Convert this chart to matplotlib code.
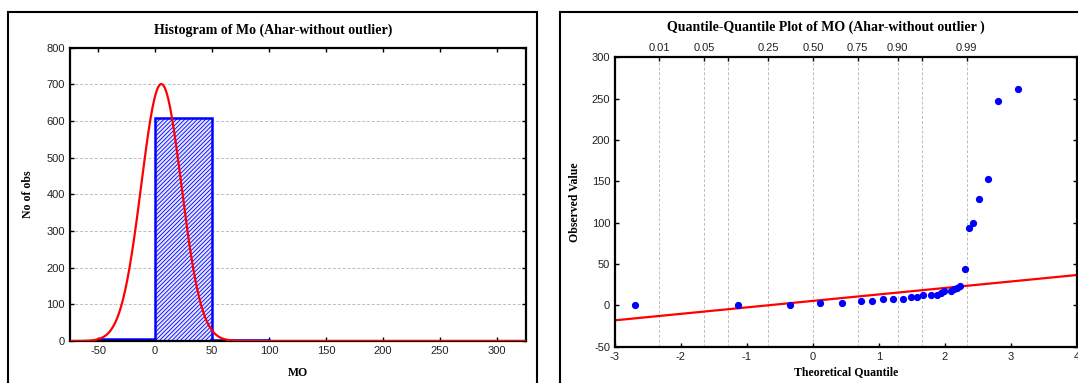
from statistics import NormalDist

import matplotlib

matplotlib.use("Agg")
import matplotlib.pyplot as plt  # noqa: E402
import numpy as np  # noqa: E402
from matplotlib.patches import Rectangle  # noqa: E402

# histogram data (MO, bins of width 50)
bin_edges = [-50, 0, 50, 100, 150, 200, 250, 300]
bin_counts = [5, 607, 2, 1, 1, 1, 1]
normal_mean = 5.5
normal_sd = 17.6

# quantile-quantile data
theo_q = [-2.69, -1.14, -0.345, 0.10, 0.44, 0.725, 0.90, 1.06, 1.21, 1.36,
          1.48, 1.57, 1.67, 1.79, 1.88, 1.94, 1.99, 2.09, 2.14, 2.18, 2.23,
          2.30, 2.36, 2.42, 2.52, 2.65, 2.81, 3.11]
obs_val = [1.0, 1.0, 0.5, 2.5, 3.0, 5.2, 5.2, 7.6, 7.6, 7.6,
           10.0, 10.0, 12.4, 12.4, 12.4, 14.4, 16.8, 17.2, 19.6, 21.5, 24.0,
           44.0, 94.0, 99.5, 129.0, 153.0, 247.0, 262.0]
fit_intercept = 5.4
fit_slope = 7.83
top_probs = [0.01, 0.05, 0.10, 0.25, 0.50, 0.75, 0.90, 0.95, 0.99]
top_labels = ["0.01", "0.05", "", "0.25", "0.50", "0.75", "0.90", "", "0.99"]

SERIF = "Liberation Serif"
SANS = "Liberation Sans"
plt.rcParams["font.family"] = SANS
plt.rcParams["hatch.linewidth"] = 0.6
plt.rcParams["axes.unicode_minus"] = False

W, H = 1078, 383
fig = plt.figure(figsize=(W / 100, H / 100), dpi=100)


def fx(px):
    return px / W


def fy(py):
    return 1 - py / H


# panel frames
for x0, x1 in [(8, 537), (560, 1100)]:
    fig.patches.append(Rectangle((fx(x0), -0.05), fx(x1 - x0), fy(12) + 0.05,
                                 transform=fig.transFigure, fill=False,
                                 edgecolor="black", linewidth=1.5))


def style_axes(ax):
    for sp in ax.spines.values():
        sp.set_linewidth(1.6)
        sp.set_color("black")
    ax.tick_params(direction="in", length=3, width=1, labelsize=8,
                   top=True, right=True, colors="black", labelcolor="#222222")


# ---- histogram ----
ax1 = fig.add_axes([fx(69.5), fy(341), fx(525.7 - 69.5), (341 - 47.5) / H])
lefts = bin_edges[:-1]
widths = np.diff(bin_edges)
ax1.bar(lefts, bin_counts, width=widths, align="edge", facecolor="#e4e6ff",
        edgecolor="#0000ff", hatch="////////", linewidth=1.8, zorder=2)
n_obs = sum(bin_counts)
xs = np.linspace(-75, 325, 800)
ys = n_obs * 50 / (normal_sd * np.sqrt(2 * np.pi)) * np.exp(
    -0.5 * ((xs - normal_mean) / normal_sd) ** 2)
ax1.plot(xs, ys, color="#ff0000", linewidth=1.6, zorder=3)
ax1.set_xlim(-75, 325)
ax1.set_ylim(0, 800)
ax1.set_xticks(range(-50, 301, 50))
ax1.set_yticks(range(0, 801, 100))
ax1.yaxis.grid(True, linestyle=(0, (3, 2)), color="#bdbdbd", linewidth=0.7)
ax1.set_axisbelow(True)
style_axes(ax1)
ax1.set_xlabel("MO", fontfamily=SERIF, fontweight="bold", fontsize=8.5, labelpad=8)
ax1.set_ylabel("No of obs", fontfamily=SERIF, fontweight="bold", fontsize=8.5, labelpad=9)
fig.text(fx(273), fy(30), "Histogram of Mo (Ahar-without outlier)", ha="center",
         va="center", fontfamily=SERIF, fontweight="bold", fontsize=10)

# ---- Q-Q plot ----
ax2 = fig.add_axes([fx(615), fy(346.7), fx(1077 - 615), (346.7 - 57.3) / H])
ax2.set_xlim(-3, 4)
ax2.set_ylim(-50, 300)
top_pos = [NormalDist().inv_cdf(p) for p in top_probs]
for xp in top_pos:
    ax2.axvline(xp, color="#bdbdbd", linestyle=(0, (3, 2)), linewidth=0.7, zorder=1)
lx = np.array([-3, 4])
ax2.plot(lx, fit_intercept + fit_slope * lx, color="#ff0000", linewidth=1.6, zorder=2)
ax2.plot(theo_q, obs_val, "o", color="#0000ff", markersize=4.2, zorder=3)
ax2.set_xticks(range(-3, 5))
ax2.set_yticks(range(-50, 301, 50))
style_axes(ax2)
ax2.tick_params(top=False)
axt = ax2.twiny()
axt.set_xlim(-3, 4)
axt.set_xticks(top_pos)
axt.set_xticklabels(top_labels)
axt.tick_params(direction="in", length=3, width=1, labelsize=8, pad=3,
                labelcolor="#222222")
for sp in axt.spines.values():
    sp.set_visible(False)
ax2.set_xlabel("Theoretical Quantile", fontfamily=SERIF, fontweight="bold",
               fontsize=8.5, labelpad=3)
ax2.set_ylabel("Observed Value", fontfamily=SERIF, fontweight="bold",
               fontsize=8.5, labelpad=8)
fig.text(fx(826), fy(27), "Quantile-Quantile Plot of MO (Ahar-without outlier )",
         ha="center", va="center", fontfamily=SERIF, fontweight="bold", fontsize=10)

fig.savefig("out.png", dpi=100)
